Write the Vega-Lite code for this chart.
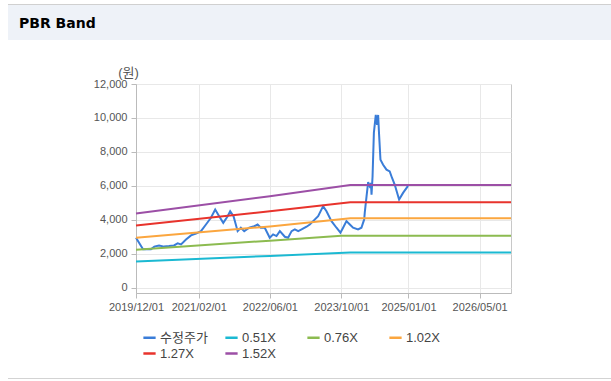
{
  "$schema": "https://vega.github.io/schema/vega-lite/v6.json",
  "padding": {"left": 8, "top": 4, "right": 0, "bottom": 0},
  "background": "white",
  "bounds": "flush",
  "spacing": 0,
  "columns": 2,
  "config": {
    "view": {"stroke": null},
    "font": "Liberation Sans, Noto Sans CJK KR"
  },
  "concat": [
    {"width": 128, "height": 1, "view": {"fill": "#d0d0d0", "stroke": null}, "data": {"values": []}, "mark": "rect"},
    {"width": 475, "height": 1, "view": {"fill": "#d0d0d0", "stroke": null}, "data": {"values": []}, "mark": "rect"},
    {
      "width": 128, "height": 35,
      "view": {"fill": "#eef2f8", "stroke": null},
      "data": {"values": []},
      "mark": "rect",
      "title": {
        "text": "PBR Band", "anchor": "start", "frame": "group", "orient": "top",
        "offset": -33, "baseline": "middle", "dx": 11,
        "font": "DejaVu Sans", "fontSize": 14, "fontWeight": "bold", "color": "#000000"
      }
    },
    {"width": 475, "height": 35, "view": {"fill": "#eef2f8", "stroke": null}, "data": {"values": []}, "mark": "rect"},
    {"width": 128, "height": 44, "view": {"stroke": null}, "data": {"values": []}, "mark": "rect"},
    {"width": 475, "height": 44, "view": {"stroke": null}, "data": {"values": []}, "mark": "rect"},
    {"width": 128, "height": 209, "view": {"stroke": null}, "data": {"values": []}, "mark": "rect"},
    {
      "width": 375, "height": 209,
      "view": {"stroke": "#c8c8c8"},
      "data": {"values": [
        {"d": "2019-12-01T00:00", "s": "수정주가", "v": 2950},
        {"d": "2020-01-18T00:00", "s": "수정주가", "v": 2270},
        {"d": "2020-03-12T00:00", "s": "수정주가", "v": 2270},
        {"d": "2020-04-04T00:00", "s": "수정주가", "v": 2430},
        {"d": "2020-05-06T00:00", "s": "수정주가", "v": 2500},
        {"d": "2020-06-09T00:00", "s": "수정주가", "v": 2430},
        {"d": "2020-07-13T00:00", "s": "수정주가", "v": 2460},
        {"d": "2020-08-16T00:00", "s": "수정주가", "v": 2500},
        {"d": "2020-09-10T00:00", "s": "수정주가", "v": 2620},
        {"d": "2020-10-03T00:00", "s": "수정주가", "v": 2560},
        {"d": "2020-11-06T00:00", "s": "수정주가", "v": 2850},
        {"d": "2020-12-10T00:00", "s": "수정주가", "v": 3090},
        {"d": "2021-01-13T00:00", "s": "수정주가", "v": 3200},
        {"d": "2021-02-16T00:00", "s": "수정주가", "v": 3340},
        {"d": "2021-03-22T00:00", "s": "수정주가", "v": 3730},
        {"d": "2021-04-25T00:00", "s": "수정주가", "v": 4130},
        {"d": "2021-05-24T00:00", "s": "수정주가", "v": 4610},
        {"d": "2021-06-20T00:00", "s": "수정주가", "v": 4220},
        {"d": "2021-07-18T00:00", "s": "수정주가", "v": 3830},
        {"d": "2021-08-17T00:00", "s": "수정주가", "v": 4220},
        {"d": "2021-09-03T00:00", "s": "수정주가", "v": 4510},
        {"d": "2021-09-26T00:00", "s": "수정주가", "v": 4220},
        {"d": "2021-10-24T00:00", "s": "수정주가", "v": 3340},
        {"d": "2021-11-15T00:00", "s": "수정주가", "v": 3540},
        {"d": "2021-12-08T00:00", "s": "수정주가", "v": 3340},
        {"d": "2022-01-11T00:00", "s": "수정주가", "v": 3540},
        {"d": "2022-02-14T00:00", "s": "수정주가", "v": 3630},
        {"d": "2022-03-09T00:00", "s": "수정주가", "v": 3730},
        {"d": "2022-03-31T00:00", "s": "수정주가", "v": 3540},
        {"d": "2022-04-27T00:00", "s": "수정주가", "v": 3540},
        {"d": "2022-05-31T00:00", "s": "수정주가", "v": 2950},
        {"d": "2022-06-23T00:00", "s": "수정주가", "v": 3150},
        {"d": "2022-07-16T00:00", "s": "수정주가", "v": 3050},
        {"d": "2022-08-08T00:00", "s": "수정주가", "v": 3340},
        {"d": "2022-09-11T00:00", "s": "수정주가", "v": 3010},
        {"d": "2022-10-03T00:00", "s": "수정주가", "v": 2950},
        {"d": "2022-10-27T00:00", "s": "수정주가", "v": 3340},
        {"d": "2022-11-18T00:00", "s": "수정주가", "v": 3440},
        {"d": "2022-12-11T00:00", "s": "수정주가", "v": 3340},
        {"d": "2023-01-03T00:00", "s": "수정주가", "v": 3440},
        {"d": "2023-02-06T00:00", "s": "수정주가", "v": 3600},
        {"d": "2023-02-28T00:00", "s": "수정주가", "v": 3730},
        {"d": "2023-03-23T00:00", "s": "수정주가", "v": 3930},
        {"d": "2023-04-26T00:00", "s": "수정주가", "v": 4220},
        {"d": "2023-05-30T00:00", "s": "수정주가", "v": 4810},
        {"d": "2023-06-22T00:00", "s": "수정주가", "v": 4510},
        {"d": "2023-07-26T00:00", "s": "수정주가", "v": 3930},
        {"d": "2023-08-29T00:00", "s": "수정주가", "v": 3540},
        {"d": "2023-09-25T00:00", "s": "수정주가", "v": 3250},
        {"d": "2023-10-13T00:00", "s": "수정주가", "v": 3540},
        {"d": "2023-11-05T00:00", "s": "수정주가", "v": 3930},
        {"d": "2023-11-28T00:00", "s": "수정주가", "v": 3730},
        {"d": "2023-12-20T00:00", "s": "수정주가", "v": 3540},
        {"d": "2024-01-23T00:00", "s": "수정주가", "v": 3440},
        {"d": "2024-02-15T00:00", "s": "수정주가", "v": 3540},
        {"d": "2024-03-05T00:00", "s": "수정주가", "v": 4030},
        {"d": "2024-03-09T00:00", "s": "수정주가", "v": 4440},
        {"d": "2024-03-21T00:00", "s": "수정주가", "v": 5390},
        {"d": "2024-04-01T00:00", "s": "수정주가", "v": 6230},
        {"d": "2024-04-16T00:00", "s": "수정주가", "v": 5880},
        {"d": "2024-04-20T00:00", "s": "수정주가", "v": 6180},
        {"d": "2024-04-24T00:00", "s": "수정주가", "v": 5490},
        {"d": "2024-05-01T00:00", "s": "수정주가", "v": 6560},
        {"d": "2024-05-10T00:00", "s": "수정주가", "v": 9120},
        {"d": "2024-05-23T00:00", "s": "수정주가", "v": 10180},
        {"d": "2024-06-01T00:00", "s": "수정주가", "v": 9600},
        {"d": "2024-06-08T00:00", "s": "수정주가", "v": 10180},
        {"d": "2024-06-14T00:00", "s": "수정주가", "v": 9110},
        {"d": "2024-06-24T00:00", "s": "수정주가", "v": 7540},
        {"d": "2024-07-12T00:00", "s": "수정주가", "v": 7250},
        {"d": "2024-08-04T00:00", "s": "수정주가", "v": 6960},
        {"d": "2024-08-26T00:00", "s": "수정주가", "v": 6860},
        {"d": "2024-09-11T00:00", "s": "수정주가", "v": 6470},
        {"d": "2024-09-29T00:00", "s": "수정주가", "v": 6080},
        {"d": "2024-10-29T00:00", "s": "수정주가", "v": 5200},
        {"d": "2024-11-25T00:00", "s": "수정주가", "v": 5590},
        {"d": "2024-12-29T00:00", "s": "수정주가", "v": 6000},
        {"d": "2019-12-01T00:00", "s": "0.51X", "v": 1550},
        {"d": "2022-06-01T00:00", "s": "0.51X", "v": 1880},
        {"d": "2023-12-01T00:00", "s": "0.51X", "v": 2090},
        {"d": "2026-12-01T00:00", "s": "0.51X", "v": 2090},
        {"d": "2019-12-01T00:00", "s": "0.76X", "v": 2250},
        {"d": "2022-06-01T00:00", "s": "0.76X", "v": 2780},
        {"d": "2023-10-01T00:00", "s": "0.76X", "v": 3070},
        {"d": "2026-12-01T00:00", "s": "0.76X", "v": 3070},
        {"d": "2019-12-01T00:00", "s": "1.02X", "v": 2950},
        {"d": "2022-06-01T00:00", "s": "1.02X", "v": 3620},
        {"d": "2023-12-01T00:00", "s": "1.02X", "v": 4100},
        {"d": "2026-12-01T00:00", "s": "1.02X", "v": 4100},
        {"d": "2019-12-01T00:00", "s": "1.27X", "v": 3670},
        {"d": "2022-06-01T00:00", "s": "1.27X", "v": 4510},
        {"d": "2023-12-01T00:00", "s": "1.27X", "v": 5040},
        {"d": "2026-12-01T00:00", "s": "1.27X", "v": 5040},
        {"d": "2019-12-01T00:00", "s": "1.52X", "v": 4380},
        {"d": "2022-06-01T00:00", "s": "1.52X", "v": 5390},
        {"d": "2023-12-01T00:00", "s": "1.52X", "v": 6050},
        {"d": "2026-12-01T00:00", "s": "1.52X", "v": 6050}
      ]},
      "encoding": {
        "x": {
          "field": "d", "type": "temporal",
          "scale": {"domain": [{"year": 2019, "month": 12, "date": 1}, {"year": 2026, "month": 12, "date": 1}], "nice": false},
          "axis": {
            "title": null,
            "values": [
              {"year": 2019, "month": 12, "date": 1},
              {"year": 2021, "month": 2, "date": 1},
              {"year": 2022, "month": 6, "date": 1},
              {"year": 2023, "month": 10, "date": 1},
              {"year": 2025, "month": 1, "date": 1},
              {"year": 2026, "month": 5, "date": 1}
            ],
            "format": "%Y/%m/%d",
            "labelFlush": false, "labelOverlap": false,
            "labelFont": "Liberation Sans", "labelFontSize": 11, "labelColor": "#555555",
            "labelPadding": 3,
            "tickSize": 5, "tickColor": "#bbbbbb",
            "domainColor": "#bbbbbb",
            "grid": true, "gridColor": "#e8e8e8"
          }
        },
        "y": {
          "field": "v", "type": "quantitative",
          "scale": {"domain": [-300, 12000], "nice": false, "zero": false},
          "axis": {
            "values": [0, 2000, 4000, 6000, 8000, 10000, 12000],
            "format": ",d",
            "title": "(원)", "titleAngle": 0, "titleX": -8, "titleY": -12,
            "titleAlign": "center", "titleBaseline": "middle",
            "titleFont": "Liberation Sans, Noto Sans CJK KR", "titleFontSize": 13, "titleFontWeight": "normal", "titleColor": "#555555",
            "labelFont": "Liberation Sans", "labelFontSize": 11, "labelColor": "#555555",
            "labelPadding": 4,
            "tickSize": 5, "tickColor": "#bbbbbb",
            "domainColor": "#bbbbbb",
            "grid": true, "gridColor": "#e8e8e8"
          }
        },
        "color": {
          "field": "s", "type": "nominal",
          "scale": {
            "domain": ["수정주가", "0.51X", "0.76X", "1.02X", "1.27X", "1.52X"],
            "range": ["#3a7dd8", "#1bb9d2", "#8cbb50", "#fba63f", "#e8332c", "#9c4fa6"]
          },
          "legend": {
            "title": null, "orient": "none", "legendX": 134, "legendY": 326,
            "direction": "horizontal", "columns": 4, "gridAlign": "all",
            "columnPadding": 12, "rowPadding": 1, "padding": 0,
            "symbolType": "stroke", "symbolSize": 150, "symbolStrokeWidth": 2.5,
            "labelFont": "Liberation Sans, Noto Sans CJK KR", "labelFontSize": 13, "labelColor": "#444444",
            "labelOffset": 3
          }
        }
      },
      "layer": [
        {
          "transform": [{"filter": "datum.s === '수정주가'"}],
          "mark": {"type": "line", "strokeWidth": 2}
        },
        {
          "transform": [{"filter": "datum.s !== '수정주가'"}],
          "mark": {"type": "line", "strokeWidth": 2}
        }
      ]
    },
    {"width": 128, "height": 85, "view": {"stroke": null}, "data": {"values": []}, "mark": "rect"},
    {"width": 475, "height": 85, "view": {"stroke": null}, "data": {"values": []}, "mark": "rect"},
    {"width": 128, "height": 1, "view": {"fill": "#d3d3d3", "stroke": null}, "data": {"values": []}, "mark": "rect"},
    {"width": 475, "height": 1, "view": {"fill": "#d3d3d3", "stroke": null}, "data": {"values": []}, "mark": "rect"}
  ]
}
